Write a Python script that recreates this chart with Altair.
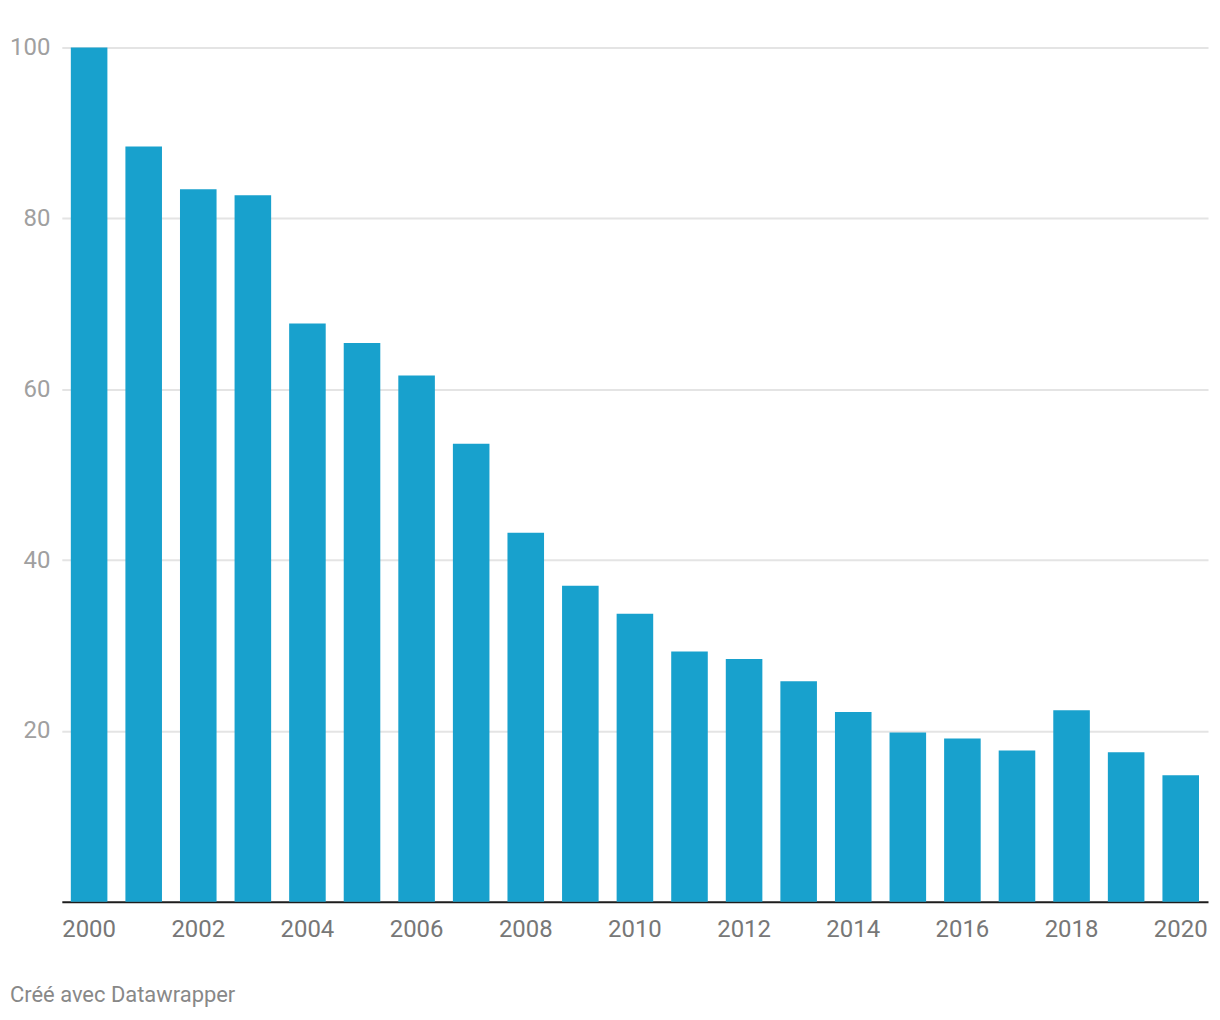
import altair as alt
import pandas as pd

years = list(range(2000, 2021))
values = [100, 88.4, 83.4, 82.7, 67.7, 65.4, 61.6, 53.6, 43.2, 37.0, 33.7,
          29.3, 28.4, 25.8, 22.2, 19.8, 19.1, 17.7, 22.4, 17.5, 14.8]
x_tick_years = list(range(2000, 2021, 2))
y_ticks = [20, 40, 60, 80, 100]

df = pd.DataFrame({"year": years, "value": values})

chart = alt.Chart(df).mark_bar(color="#18a1cd").encode(
    x=alt.X("year:O",
            scale=alt.Scale(paddingInner=0.33, paddingOuter=0.165),
            axis=alt.Axis(values=x_tick_years, title=None, labelAngle=0,
                          ticks=False, domain=True, domainColor="#1d1d1d",
                          domainWidth=2, labelColor="#777777", labelFontSize=24,
                          labelPadding=16, labelFont="Roboto", grid=False)),
    y=alt.Y("value:Q",
            scale=alt.Scale(domain=[0, 100], nice=False),
            axis=alt.Axis(values=y_ticks, title=None, ticks=False, domain=False,
                          grid=True, gridColor="#e4e4e4", gridWidth=2,
                          labelColor="#a0a0a0", labelFontSize=24,
                          labelPadding=12, labelFont="Roboto")),
).properties(
    width=1150,
    height=857,
    autosize=alt.AutoSizeParams(type="none"),
    padding={"left": 54, "top": 38, "right": 4, "bottom": 110},
    title=alt.TitleParams("Créé avec Datawrapper", orient="bottom", anchor="start",
                          frame="group", dx=-52, offset=44, fontSize=22,
                          fontWeight="normal", font="Roboto", color="#888888"),
).configure_view(stroke=None)

chart.save("out.html", embed_options={"renderer": "svg", "actions": False})
